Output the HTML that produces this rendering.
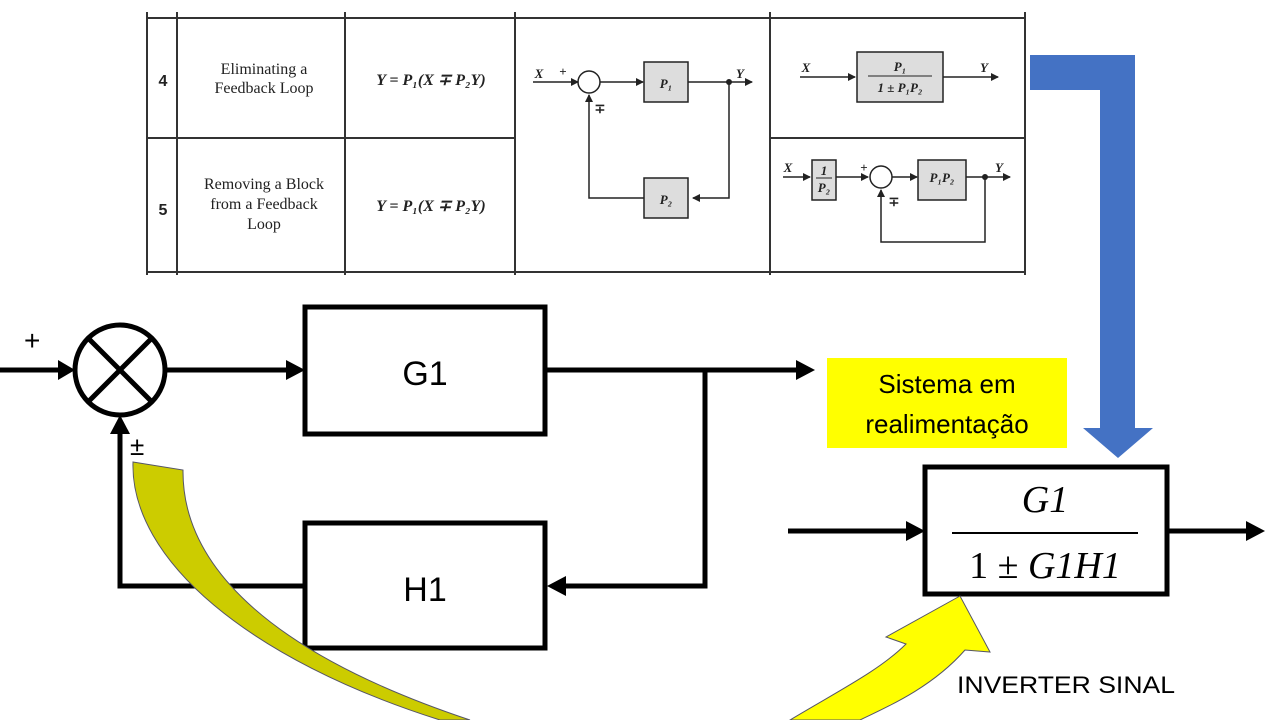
<!DOCTYPE html>
<html><head><meta charset="utf-8"><style>
html,body{margin:0;padding:0;background:#fff;}
svg{display:block;}
.tb{font-family:"Liberation Serif",serif;fill:#222;}
</style></head><body>
<svg width="1280" height="720" viewBox="0 0 1280 720" xmlns="http://www.w3.org/2000/svg">
<defs>
<marker id="a" markerWidth="8" markerHeight="8" refX="7" refY="4" orient="auto" markerUnits="userSpaceOnUse"><path d="M0,0L8,4L0,8z" fill="#222"/></marker>
</defs>
<g stroke="#333" stroke-width="2" fill="none">
<line x1="147" y1="18" x2="1025" y2="18"/>
<line x1="147" y1="272" x2="1025" y2="272"/>
<line x1="147" y1="138" x2="515" y2="138"/>
<line x1="770" y1="138" x2="1025" y2="138"/>
<line x1="147" y1="12" x2="147" y2="275"/>
<line x1="177" y1="12" x2="177" y2="275"/>
<line x1="345" y1="12" x2="345" y2="275"/>
<line x1="515" y1="12" x2="515" y2="275"/>
<line x1="770" y1="12" x2="770" y2="275"/>
<line x1="1025" y1="12" x2="1025" y2="275"/>
</g>
<g class="tb" font-size="16" text-anchor="middle">
<text x="163" y="86" font-weight="bold" font-family="Liberation Sans">4</text>
<text x="163" y="215" font-weight="bold" font-family="Liberation Sans">5</text>
<text x="264" y="74">Eliminating a</text>
<text x="264" y="93">Feedback Loop</text>
<text x="264" y="189">Removing a Block</text>
<text x="264" y="209">from a Feedback</text>
<text x="264" y="229">Loop</text>
<text x="431" y="85" font-style="italic" font-weight="bold">Y = P₁(X ∓ P₂Y)</text>
<text x="431" y="211" font-style="italic" font-weight="bold">Y = P₁(X ∓ P₂Y)</text>
</g>
<g stroke="#222" stroke-width="1.5" fill="none">
<line x1="533" y1="82" x2="578" y2="82" marker-end="url(#a)"/>
<circle cx="589" cy="82" r="11"/>
<line x1="600" y1="82" x2="643" y2="82" marker-end="url(#a)"/>
<rect x="644" y="62" width="44" height="40" fill="#ddd"/>
<line x1="688" y1="82" x2="752" y2="82" marker-end="url(#a)"/>
<polyline points="729,82 729,198 693,198" marker-end="url(#a)"/>
<rect x="644" y="178" width="44" height="40" fill="#ddd"/>
<polyline points="644,198 589,198 589,95" marker-end="url(#a)"/>
<line x1="800" y1="77" x2="855" y2="77" marker-end="url(#a)"/>
<rect x="857" y="52" width="86" height="50" fill="#ddd"/>
<line x1="943" y1="77" x2="998" y2="77" marker-end="url(#a)"/>
<line x1="783" y1="177" x2="810" y2="177" marker-end="url(#a)"/>
<rect x="812" y="160" width="24" height="40" fill="#ddd"/>
<line x1="836" y1="177" x2="868" y2="177" marker-end="url(#a)"/>
<circle cx="881" cy="177" r="11"/>
<line x1="892" y1="177" x2="917" y2="177" marker-end="url(#a)"/>
<rect x="918" y="160" width="48" height="40" fill="#ddd"/>
<line x1="966" y1="177" x2="1010" y2="177" marker-end="url(#a)"/>
<polyline points="985,177 985,242 881,242 881,190" marker-end="url(#a)"/>
</g>
<circle cx="729" cy="82" r="3" fill="#222"/><circle cx="985" cy="177" r="3" fill="#222"/>
<g class="tb" font-size="13" font-style="italic" font-weight="bold" text-anchor="middle">
<text x="539" y="78">X</text><text x="563" y="76" font-style="normal">+</text>
<text x="600" y="113" font-style="normal">∓</text>
<text x="666" y="88">P₁</text><text x="666" y="204">P₂</text>
<text x="740" y="78">Y</text>
<text x="806" y="72">X</text><text x="984" y="72">Y</text>
<text x="900" y="71">P₁</text>
<line x1="868" y1="76" x2="932" y2="76" stroke="#222"/>
<text x="900" y="92">1 ± P₁P₂</text>
<text x="788" y="172">X</text>
<text x="824" y="175">1</text><line x1="816" y1="178" x2="832" y2="178" stroke="#222"/><text x="824" y="192">P₂</text>
<text x="864" y="172" font-style="normal">+</text>
<text x="894" y="206" font-style="normal">∓</text>
<text x="942" y="182">P₁P₂</text><text x="999" y="172">Y</text>
</g>
<polygon points="1030,55 1135,55 1135,428 1153,428 1118,458 1083,428 1100,428 1100,90 1030,90" fill="#4472C4"/>
<g stroke="#000" stroke-width="5" fill="none">
<line x1="0" y1="370" x2="60" y2="370"/>
<circle cx="120" cy="370" r="45"/>
<line x1="88" y1="338" x2="152" y2="402"/>
<line x1="152" y1="338" x2="88" y2="402"/>
<line x1="165" y1="370" x2="288" y2="370"/>
<rect x="305" y="307" width="240" height="127"/>
<line x1="545" y1="370" x2="798" y2="370"/>
<polyline points="705,370 705,586 565,586"/>
<rect x="305" y="523" width="240" height="125"/>
<polyline points="305,586 120,586 120,433"/>
<rect x="925" y="467" width="242" height="127"/>
<line x1="788" y1="531" x2="908" y2="531"/>
<line x1="1167" y1="531" x2="1248" y2="531"/>
</g>
<g fill="#000">
<polygon points="75,370 58,360 58,380"/>
<polygon points="305,370 286,360 286,380"/>
<polygon points="815,370 796,360 796,380"/>
<polygon points="547,586 566,576 566,596"/>
<polygon points="120,415 110,434 130,434"/>
<polygon points="925,531 906,521 906,541"/>
<polygon points="1265,531 1246,521 1246,541"/>
</g>
<g font-family="Liberation Sans,sans-serif" fill="#000">
<text x="24" y="350" font-size="28">+</text>
<text x="130" y="455" font-size="26">±</text>
<text x="425" y="385" font-size="34" text-anchor="middle">G1</text>
<text x="425" y="601" font-size="34" text-anchor="middle">H1</text>
</g>
<rect x="827" y="358" width="240" height="90" fill="#FFFF00"/>
<g font-family="Liberation Sans,sans-serif" font-size="26" text-anchor="middle" fill="#000">
<text x="947" y="393">Sistema em</text>
<text x="947" y="433">realimentação</text>
</g>
<g font-family="Liberation Serif,serif" font-size="38" text-anchor="middle" fill="#000">
<text x="1045" y="512" font-style="italic">G1</text>
<line x1="952" y1="533" x2="1138" y2="533" stroke="#000" stroke-width="2"/>
<text x="1045" y="578"><tspan>1 ± </tspan><tspan font-style="italic">G1H1</tspan></text>
</g>
<path d="M133,462 L183,470 C182,560 260,650 470,720 L440,720 C250,660 130,560 133,462Z" fill="#CCCC00" stroke="#556" stroke-width="1"/>
<path d="M790,720 C840,690 880,670 906,644 L886,637 L960,596 L990,652 L965,650 C930,690 880,710 860,720Z" fill="#FFFF00" stroke="#556" stroke-width="1"/>
<text x="957" y="693" font-family="Liberation Sans,sans-serif" font-size="24" fill="#000" textLength="218" lengthAdjust="spacingAndGlyphs">INVERTER SINAL</text>
</svg>
</body></html>
